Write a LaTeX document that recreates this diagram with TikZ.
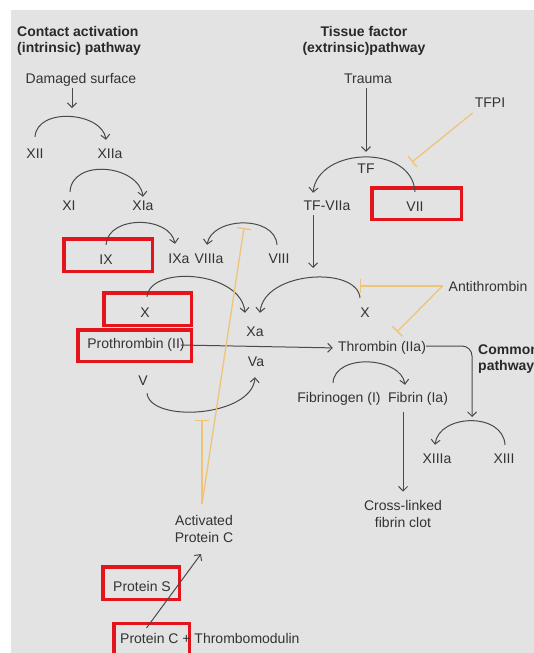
\documentclass[tikz,border=0pt]{standalone}
\usepackage{fontspec}
\setmainfont{Liberation Sans}
\usetikzlibrary{arrows.meta}
\definecolor{bgc}{HTML}{E3E3E3}
\definecolor{lnc}{HTML}{4A4A4A}
\definecolor{txc}{HTML}{333333}
\definecolor{rbc}{HTML}{E3141B}
\definecolor{ylc}{HTML}{EFC47A}
\begin{document}
\begin{tikzpicture}[x=1pt,y=-1pt,
  lbl/.style={inner sep=0pt, text height=10pt, text depth=0pt, text=txc, font=\fontsize{14}{17}\selectfont},
  ml/.style={inner sep=0pt, align=center, text=txc, font=\fontsize{14}{17}\selectfont},
  ttl/.style={inner sep=0pt, text=txc!80!black, font=\bfseries\fontsize{14}{16}\selectfont},
  redbox/.style={draw=rbc, line width=3.5pt, inner sep=0pt},
  arr/.style={draw=lnc, line width=1pt, -{Straight Barb[length=4.5pt,width=9pt]}},
  inh/.style={draw=ylc, line width=1.3pt, -{Bar[width=14pt]}}]
\useasboundingbox (0,0) rectangle (534,653);
\fill[bgc] (11,10) rectangle (534,653);

% red boxes
\node[redbox, minimum width=88.5pt, minimum height=32.5pt] (boxix) at (108,255) {};
\node[redbox, minimum width=87.5pt, minimum height=32.5pt] (boxx) at (147.5,309) {};
\node[redbox, minimum width=113.5pt, minimum height=31.5pt] (boxpro) at (134.5,345.5) {};
\node[redbox, minimum width=89.5pt, minimum height=31.5pt] (boxvii) at (416.5,203.5) {};
\node[redbox, minimum width=76.5pt, minimum height=32.5pt] (boxps) at (141,583) {};
\node[redbox, minimum width=75.5pt, minimum height=31.5pt] (boxpc) at (151.5,639) {};

% titles
\node[ttl, align=left, anchor=west] (t1) at (17,41) {Contact activation\\(intrinsic) pathway};
\node[ttl, align=center] (t2) at (364,41) {Tissue factor\\(extrinsic)pathway};
\node[ttl, align=left, anchor=west] (common) at (478,359.5) {Common\\pathway};

% labels
\node[lbl] (dmg) at (81,78) {Damaged surface};
\node[lbl] (xii) at (35,153) {XII};
\node[lbl] (xiia) at (110,153) {XIIa};
\node[lbl] (xi) at (69,205) {XI};
\node[lbl] (xia) at (143,205) {XIa};
\node[lbl] (ix) at (106,259) {IX};
\node[lbl] (ixa) at (179,258) {IXa};
\node[lbl] (viiia) at (209,258) {VIIIa};
\node[lbl] (viii) at (279,258) {VIII};
\node[lbl] (x) at (145,312) {X};
\node[lbl] (xr) at (365,312) {X};
\node[lbl] (pro) at (136,343) {Prothrombin (II)};
\node[lbl] (xa) at (255,331) {Xa};
\node[lbl] (va) at (256,361) {Va};
\node[lbl] (v) at (143,380) {V};
\node[lbl] (thr) at (382,346) {Thrombin (IIa)};
\node[lbl] (anti) at (488,286) {Antithrombin};
\node[lbl] (fibg) at (339,397) {Fibrinogen (I)};
\node[lbl] (fib) at (418,397) {Fibrin (Ia)};
\node[lbl] (xiiia) at (437,458) {XIIIa};
\node[lbl] (xiii) at (504,458) {XIII};
\node[ml] (clot) at (403,513.5) {Cross-linked\\fibrin clot};
\node[ml] (apc) at (204,528.5) {Activated\\Protein C};
\node[lbl] (ps) at (142,586) {Protein S};
\node[lbl, anchor=west] (pc) at (120,638) {Protein C + Thrombomodulin};
\node[lbl] (trauma) at (368,78) {Trauma};
\node[lbl] (tfpi) at (490,102) {TFPI};
\node[lbl] (tf) at (366,168) {TF};
\node[lbl] (tfviia) at (327,205) {TF-VIIa};
\node[lbl] (vii) at (415,206) {VII};

% free ends
\coordinate (dmgend) at (72,108);
\coordinate (tfvend) at (313,268);
\coordinate (cxiii) at (472,417);
\coordinate (inhTF) at (412,162);
\coordinate (inhX) at (360,286);
\coordinate (inhV) at (202,420);
\coordinate (inhVIII) at (244,228);

% straight arrows
\draw[arr] ([xshift=-9pt,yshift=-5pt]dmg.south) -- (dmgend);
\draw[arr, shorten <=5pt, shorten >=11pt] (trauma.south -| tf.north) -- (tf.north);
\draw[arr] ([xshift=-14pt,yshift=-5pt]tfviia.south) -- (tfvend);
\draw[arr, shorten <=10pt, shorten >=8pt] (fib.south -| clot.north) -- (clot.north);
\draw[arr, shorten >=5pt] ([xshift=-4pt,yshift=-2pt]pro.east) -- ([yshift=-2pt]thr.west);
\draw[arr, rounded corners=10pt] (thr.east) -| (cxiii);
\draw[arr] ([xshift=-5pt,yshift=11pt]boxpc.center) -- ([xshift=-3pt,yshift=-25.5pt]apc.center);

% arcs
\draw[arr] ([yshift=11pt]xii.north) .. controls +(2,-30) and +(-4,-28) .. ([xshift=-4pt,yshift=8pt]xiia.north);
\draw[arr] ([xshift=1pt,yshift=8pt]xi.north) .. controls +(2,-34) and +(-4,-32) .. ([yshift=3pt]xia.north);
\draw[arr] ([yshift=9pt]ix.north) .. controls +(2,-30) and +(-5,-28) .. ([xshift=-4pt,yshift=9pt]ixa.north);
\draw[arr] ([xshift=-2pt,yshift=8pt]viii.north) .. controls +(-2,-30) and +(5,-28) .. ([xshift=-2pt,yshift=8pt]viiia.north);
\draw[arr] ([xshift=2pt,yshift=10pt]x.north) .. controls +(3,-32) and +(-4,-42) .. ([xshift=-10pt,yshift=13pt]xa.north);
\draw[arr] ([xshift=-5pt,yshift=9pt]xr.north) .. controls +(-3,-32) and +(4,-42) .. ([xshift=5pt,yshift=13pt]xa.north);
\draw[arr] ([xshift=4pt,yshift=-8pt]v.south) .. controls +(3,30) and +(-3,40) .. ([xshift=-1pt,yshift=-11pt]va.south);
\draw[arr] ([xshift=-6pt,yshift=9pt]fibg.north) .. controls +(2,-30) and +(-4,-28) .. ([xshift=-13pt,yshift=7pt]fib.north);
\draw[arr] ([xshift=1pt,yshift=8pt]xiii.north) .. controls +(-2,-33) and +(4,-31) .. ([xshift=-2pt,yshift=8pt]xiiia.north);
\draw[arr] ([yshift=9pt]vii.north) .. controls +(-3,-48) and +(5,-46) .. ([xshift=-14pt,yshift=7pt]tfviia.north);

% inhibitions
\draw[inh] ([xshift=-2pt,yshift=-11pt]tfpi.west) -- (inhTF);
\draw[inh] ([xshift=-6pt]anti.west) -- (inhX);
\draw[inh] ([xshift=-6pt]anti.west) -- ([xshift=15pt,yshift=9pt]thr.north);
\draw[inh] ([xshift=-2pt,yshift=24.5pt]apc.center) -- (inhV);
\draw[inh] ([xshift=-2pt,yshift=24.5pt]apc.center) -- (inhVIII);
\end{tikzpicture}
\end{document}
